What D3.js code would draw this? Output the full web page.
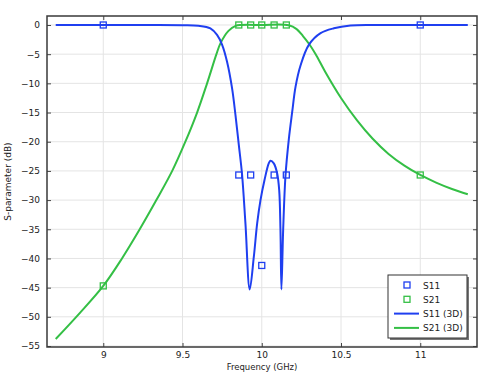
<!DOCTYPE html>
<html>
<head>
<meta charset="utf-8">
<script src="https://cdn.jsdelivr.net/npm/d3@7"></script>
<style>
  body { margin: 0; background: #fff; }
  text { font-family: "DejaVu Sans", sans-serif; fill: #222; }
</style>
</head>
<body>
<script>
// S11 (3D) curve
var s11Freq = [8.7, 9.0, 9.3, 9.5, 9.6, 9.676, 9.718, 9.75, 9.781, 9.813, 9.834, 9.855, 9.876, 9.897, 9.924,
               9.95, 9.971, 9.992, 10.017, 10.044, 10.055, 10.076, 10.097, 10.11, 10.118, 10.124,
               10.135, 10.15, 10.171, 10.192, 10.213, 10.245, 10.297, 10.371, 10.455, 10.56, 10.7, 11.0, 11.3];
var s11dB = [0, 0, 0, -0.03, -0.12, -0.57, -1.7, -3.4, -6.3, -10.9, -15.4, -20.5, -25.7, -34, -45.3,
             -39.7, -34, -30, -26.6, -23.7, -23.25, -23.7, -25.4, -28.3, -35.1, -45.3,
             -35.1, -25.7, -19.5, -14.9, -10.6, -6.9, -3.4, -1.4, -0.57, -0.1, 0, 0, 0];

// S21 (3D) curve
var s21Freq = [8.7, 8.85, 9.0, 9.118, 9.23, 9.335, 9.435, 9.518, 9.592, 9.655, 9.714, 9.74, 9.79, 9.835, 9.87,
               10.0, 10.17, 10.22, 10.26, 10.3, 10.34, 10.4, 10.5, 10.6, 10.7, 10.8, 10.9, 11.0, 11.1, 11.2, 11.3];
var s21dB = [-53.8, -49.4, -44.7, -40, -35, -30, -25, -20, -15, -10, -5, -3.1, -1.0, -0.15, 0,
             0, -0.05, -0.7, -1.9, -3.3, -5, -8, -12.5, -16.3, -19.5, -22.1, -24.1, -25.7, -27.0, -28.1, -29.0];

// marker points (S11, S21)
var markerFreq = [9, 9.855, 9.93, 10.0, 10.078, 10.155, 11];
var s11Pts = [0, -25.7, -25.7, -41.2, -25.7, -25.7, 0];
var s21Pts = [-44.7, 0, 0, 0, 0, 0, -25.7];

var xTicks = [9, 9.5, 10, 10.5, 11];
var yTicks = [0, -5, -10, -15, -20, -25, -30, -35, -40, -45, -50, -55];

var blue = "#1f3ff0", green = "#34bf45";

var width = 483, height = 375;
var margin = {top: 16, right: 6, bottom: 28, left: 47};
var w = width - margin.left - margin.right,
    h = height - margin.top - margin.bottom;

var svg = d3.select("body").append("svg")
  .attr("width", width)
  .attr("height", height);

var g = svg.append("g")
  .attr("transform", "translate(" + margin.left + "," + margin.top + ")");

var x = d3.scaleLinear().domain([8.645, 11.358]).range([0, w]);
var y = d3.scaleLinear().domain([-55.17, 1.54]).range([h, 0]);

// grid
g.append("g").selectAll("line").data(xTicks).enter().append("line")
  .attr("x1", d => x(d)).attr("x2", d => x(d))
  .attr("y1", 0).attr("y2", h)
  .attr("stroke", "#e4e4e4");
g.append("g").selectAll("line").data(yTicks).enter().append("line")
  .attr("y1", d => y(d)).attr("y2", d => y(d))
  .attr("x1", 0).attr("x2", w)
  .attr("stroke", "#e4e4e4");

// axes, ticks inward on all sides
function styleAxis(sel) {
  sel.select(".domain").remove();
  sel.selectAll(".tick line").attr("stroke", "#444");
  sel.selectAll(".tick text").style("font-size", "9px").attr("fill", "#222");
}
g.append("g").attr("transform", "translate(0," + h + ")")
  .call(d3.axisBottom(x).tickValues(xTicks).tickSizeInner(-4).tickPadding(5).tickFormat(d3.format("")))
  .call(styleAxis);
g.append("g")
  .call(d3.axisTop(x).tickValues(xTicks).tickSizeInner(-4).tickFormat(""))
  .call(styleAxis);
g.append("g")
  .call(d3.axisLeft(y).tickValues(yTicks).tickSizeInner(-4).tickPadding(7).tickFormat(d3.format("")))
  .call(styleAxis);
g.append("g").attr("transform", "translate(" + w + ",0)")
  .call(d3.axisRight(y).tickValues(yTicks).tickSizeInner(-4).tickFormat(""))
  .call(styleAxis);

g.append("rect")
  .attr("width", w).attr("height", h)
  .attr("fill", "none")
  .attr("stroke", "#3a3a3a")
  .attr("stroke-width", 1.5);

// curves
var line = d3.line()
  .x(d => x(d[0]))
  .y(d => y(d[1]))
  .curve(d3.curveCatmullRom.alpha(0.5));

g.append("path")
  .datum(d3.zip(s21Freq, s21dB))
  .attr("d", line)
  .attr("fill", "none")
  .attr("stroke", green)
  .attr("stroke-width", 2);

g.append("path")
  .datum(d3.zip(s11Freq, s11dB))
  .attr("d", line)
  .attr("fill", "none")
  .attr("stroke", blue)
  .attr("stroke-width", 2);

// markers
var ms = 6;
g.append("g").selectAll("rect").data(d3.zip(markerFreq, s11Pts)).enter().append("rect")
  .attr("x", d => x(d[0]) - ms / 2).attr("y", d => y(d[1]) - ms / 2)
  .attr("width", ms).attr("height", ms)
  .attr("fill", "none").attr("stroke", blue).attr("stroke-width", 1.3);
g.append("g").selectAll("rect").data(d3.zip(markerFreq, s21Pts)).enter().append("rect")
  .attr("x", d => x(d[0]) - ms / 2).attr("y", d => y(d[1]) - ms / 2)
  .attr("width", ms).attr("height", ms)
  .attr("fill", "none").attr("stroke", green).attr("stroke-width", 1.3);

// axis titles
svg.append("text")
  .attr("x", margin.left + w / 2).attr("y", 370)
  .attr("text-anchor", "middle")
  .style("font-size", "8.5px")
  .text("Frequency (GHz)");
svg.append("text")
  .attr("transform", "translate(11," + (margin.top + h / 2) + ") rotate(-90)")
  .attr("text-anchor", "middle")
  .style("font-size", "9px")
  .text("S-parameter (dB)");

// legend
var legendItems = [
  {label: "S11", color: blue, type: "marker"},
  {label: "S21", color: green, type: "marker"},
  {label: "S11 (3D)", color: blue, type: "line"},
  {label: "S21 (3D)", color: green, type: "line"}
];
var lg = svg.append("g").attr("transform", "translate(388,275)");
lg.append("rect").attr("x", 2).attr("y", 2).attr("width", 79).attr("height", 63).attr("fill", "#777");
lg.append("rect").attr("width", 79).attr("height", 63)
  .attr("fill", "#fff").attr("stroke", "#333").attr("stroke-width", 1);
var item = lg.selectAll(".item").data(legendItems).enter().append("g")
  .attr("transform", (d, i) => "translate(0," + (10 + i * 14.3) + ")");
item.filter(d => d.type === "marker").append("rect")
  .attr("x", 19 - ms / 2).attr("y", -ms / 2).attr("width", ms).attr("height", ms)
  .attr("fill", "none").attr("stroke", d => d.color).attr("stroke-width", 1.3);
item.filter(d => d.type === "line").append("line")
  .attr("x1", 6).attr("x2", 31).attr("y1", 0).attr("y2", 0)
  .attr("stroke", d => d.color).attr("stroke-width", 2);
item.append("text")
  .attr("x", 35).attr("y", 3.5)
  .style("font-size", "9px")
  .text(d => d.label);
</script>
</body>
</html>
